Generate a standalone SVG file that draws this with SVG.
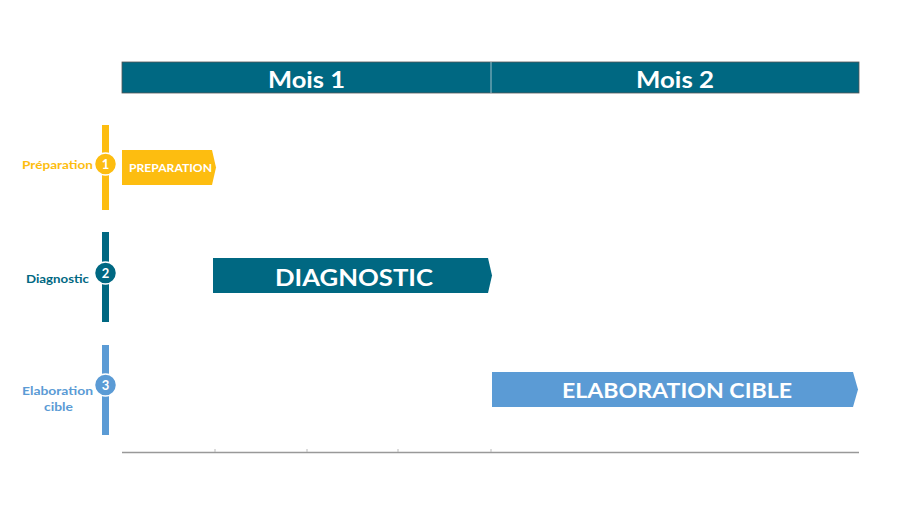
<svg xmlns="http://www.w3.org/2000/svg" width="900" height="507" viewBox="0 0 900 507">
<style>
.hdr{font-family:Lato,"Open Sans",sans-serif;font-weight:700;font-size:22px;fill:#fff;text-anchor:middle}
.lbl{font-family:Lato,"Open Sans",sans-serif;font-weight:700;font-size:12px}
.num{font-family:Lato,"Open Sans",sans-serif;font-weight:700;font-size:13px;fill:#fff;text-anchor:middle}
.bar{font-family:Lato,"Open Sans",sans-serif;font-weight:700;fill:#fff;text-anchor:middle}
.y{fill:#FDBD10}.t{fill:#006882}.b{fill:#5B9BD5}
</style>
<rect width="900" height="507" fill="#fff"/>
<g id="header">
<rect x="122" y="62" width="737" height="31" fill="#006882" stroke="#555" stroke-width="0.8"/>
<line x1="491" y1="62" x2="491" y2="93" stroke="#9fbfc8" stroke-width="1"/>
<text class="hdr" x="306.5" y="88" textLength="77" lengthAdjust="spacingAndGlyphs">Mois 1</text>
<text class="hdr" x="675" y="88" textLength="78" lengthAdjust="spacingAndGlyphs">Mois 2</text>
</g>
<g id="axis">
<line x1="122" y1="452.5" x2="859" y2="452.5" stroke="#999" stroke-width="1.5"/>
<g stroke="#bbb" stroke-width="1"><line x1="215" y1="449" x2="215" y2="452"/><line x1="307" y1="449" x2="307" y2="452"/><line x1="398" y1="449" x2="398" y2="452"/><line x1="491" y1="449" x2="491" y2="452"/></g>
</g>
<g id="step1">
<rect class="y" x="102" y="125" width="7" height="85"/>
<circle class="y" cx="105.5" cy="164" r="11" stroke="#fff" stroke-width="1.5"/>
<text class="num" x="105.5" y="168.5">1</text>
<text class="lbl y" x="93" y="169" text-anchor="end" textLength="71" lengthAdjust="spacingAndGlyphs">Préparation</text>
</g>
<g id="task1">
<path class="y" d="M122 150H212L216 167.5L212 185H122Z"/>
<text class="bar" x="170.5" y="172" font-size="11" textLength="83" lengthAdjust="spacingAndGlyphs">PREPARATION</text>
</g>
<g id="step2">
<rect class="t" x="102" y="232" width="7" height="90"/>
<circle class="t" cx="105.5" cy="273" r="11" stroke="#fff" stroke-width="1.5"/>
<text class="num" x="105.5" y="277.5">2</text>
<text class="lbl t" x="89" y="283" text-anchor="end" textLength="63" lengthAdjust="spacingAndGlyphs">Diagnostic</text>
</g>
<g id="task2">
<path class="t" d="M213 258H488L492 275.5L488 293H213Z"/>
<text class="bar" x="354" y="286" font-size="23" textLength="158" lengthAdjust="spacingAndGlyphs">DIAGNOSTIC</text>
</g>
<g id="step3">
<rect class="b" x="102" y="345" width="7" height="90"/>
<circle class="b" cx="105.5" cy="385" r="11" stroke="#fff" stroke-width="1.5"/>
<text class="num" x="105.5" y="389.5">3</text>
<text class="lbl b" x="57.5" y="395" text-anchor="middle" textLength="71" lengthAdjust="spacingAndGlyphs">Elaboration</text>
<text class="lbl b" x="58.5" y="411" text-anchor="middle" textLength="29" lengthAdjust="spacingAndGlyphs">cible</text>
</g>
<g id="task3">
<path class="b" d="M492 372H853L858 389.5L853 407H492Z"/>
<text class="bar" x="677" y="398" font-size="20" textLength="230" lengthAdjust="spacingAndGlyphs">ELABORATION CIBLE</text>
</g>
</svg>
